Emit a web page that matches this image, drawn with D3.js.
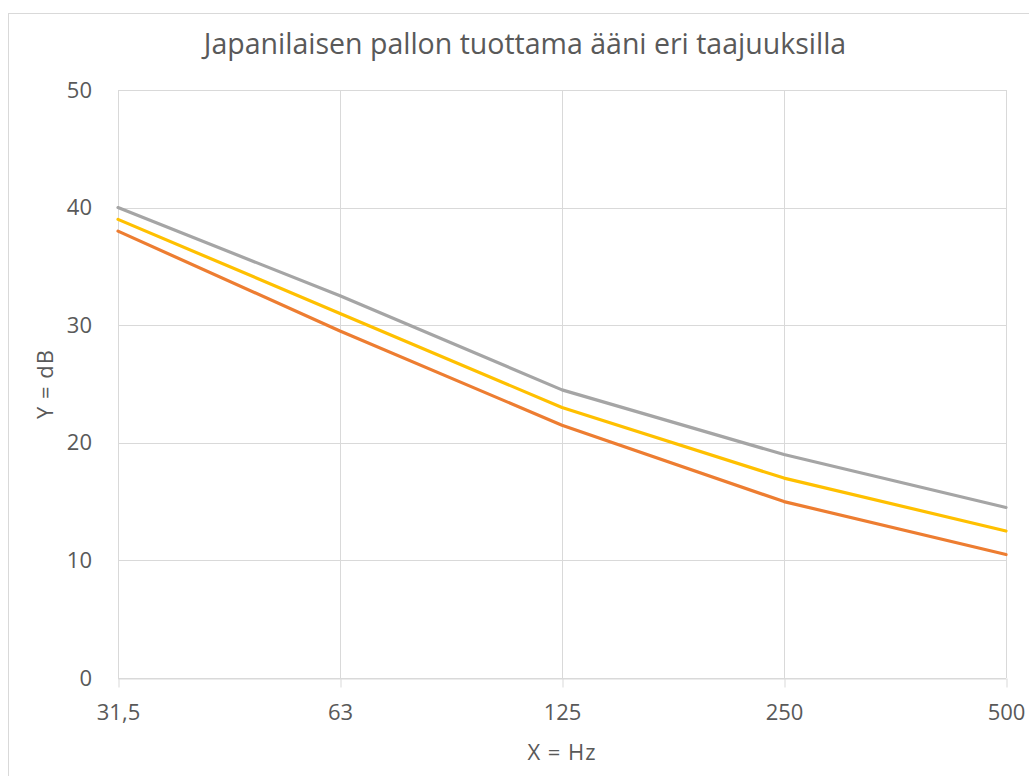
<!DOCTYPE html>
<html>
<head>
<meta charset="utf-8">
<script src="https://cdn.jsdelivr.net/npm/d3@7/dist/d3.min.js"></script>
<style>
  html, body { margin: 0; padding: 0; background: #fff; }
  svg { display: block; }
  svg text { font-family: "Open Sans", "Noto Sans", sans-serif; }
</style>
</head>
<body>
<svg id="chart" width="1029" height="776"></svg>
<script>
// Frequencies (Hz) and measured sound level (dB) for three series
const categories = ["31,5", "63", "125", "250", "500"];
const seriesGray   = [40, 32.5, 24.5, 19, 14.5];
const seriesYellow = [39, 31, 23, 17, 12.5];
const seriesOrange = [38, 29.5, 21.5, 15, 10.5];
const yTicks = [0, 10, 20, 30, 40, 50];

const series = [
  { name: "gray",   values: seriesGray,   color: "#A5A5A5" },
  { name: "yellow", values: seriesYellow, color: "#FFC000" },
  { name: "orange", values: seriesOrange, color: "#ED7D31" }
];

const FONT = '"Open Sans", "Noto Sans", sans-serif';
const TEXT = "#595959";

const svg = d3.select("#chart");
const W = 1029, H = 776;
const m = { left: 118, right: W - 1006, top: 90, bottom: H - 678 };

// chart frame
svg.append("rect")
  .attr("x", 8.5).attr("y", 13.5)
  .attr("width", W + 20).attr("height", H + 20)
  .attr("fill", "#fff").attr("stroke", "#d9d9d9").attr("stroke-width", 1);

const x = d3.scalePoint().domain(categories).range([m.left, W - m.right]);
const y = d3.scaleLinear().domain([0, 50]).range([H - m.bottom, m.top]);

// horizontal gridlines
svg.append("g")
  .selectAll("line").data(yTicks).join("line")
  .attr("x1", m.left).attr("x2", W - m.right)
  .attr("y1", d => Math.round(y(d)) + 0.5).attr("y2", d => Math.round(y(d)) + 0.5)
  .attr("stroke", "#d9d9d9").attr("stroke-width", 1);

// vertical gridlines at each category
svg.append("g")
  .selectAll("line").data(categories).join("line")
  .attr("x1", d => Math.round(x(d)) + 0.5).attr("x2", d => Math.round(x(d)) + 0.5)
  .attr("y1", m.top).attr("y2", H - m.bottom)
  .attr("stroke", "#d9d9d9").attr("stroke-width", 1);

// y axis labels
const yAxis = d3.axisLeft(y).tickValues(yTicks).tickSize(0).tickPadding(26);
const gy = svg.append("g").attr("transform", `translate(${m.left},0)`).call(yAxis)
  .attr("font-family", FONT).attr("font-size", 22);
gy.select(".domain").remove();
gy.selectAll("text").attr("fill", TEXT);

// x axis with tick marks below the baseline
const xAxis = d3.axisBottom(x).tickSize(9).tickPadding(17).tickSizeOuter(0);
const gx = svg.append("g").attr("transform", `translate(0,${Math.round(y(0)) + 0.5})`).call(xAxis)
  .attr("font-family", FONT).attr("font-size", 22);
gx.select(".domain").attr("stroke", "#d9d9d9");
gx.selectAll(".tick line").attr("stroke", "#d9d9d9").attr("transform", "translate(0.5,0)");
gx.selectAll("text").attr("fill", TEXT);

// series lines
const line = d3.line().x((d, i) => x(categories[i])).y(d => y(d));
svg.append("g")
  .selectAll("path").data(series).join("path")
  .attr("d", s => line(s.values))
  .attr("fill", "none")
  .attr("stroke", s => s.color)
  .attr("stroke-width", 3.2)
  .attr("stroke-linejoin", "round")
  .attr("stroke-linecap", "round");

// title
svg.append("text")
  .attr("x", 525).attr("y", 54)
  .attr("text-anchor", "middle")
  .attr("fill", TEXT)
  .attr("font-family", FONT)
  .attr("font-size", 28.5)
  .text("Japanilaisen pallon tuottama ääni eri taajuuksilla");

// axis titles
svg.append("text")
  .attr("x", (m.left + W - m.right) / 2).attr("y", 760)
  .attr("text-anchor", "middle")
  .attr("fill", TEXT)
  .attr("font-family", FONT)
  .attr("font-size", 22)
  .attr("letter-spacing", 1)
  .text("X = Hz");

svg.append("text")
  .attr("transform", `translate(53,${(m.top + H - m.bottom) / 2}) rotate(-90)`)
  .attr("text-anchor", "middle")
  .attr("fill", TEXT)
  .attr("font-family", FONT)
  .attr("font-size", 22)
  .attr("letter-spacing", 1)
  .text("Y = dB");
</script>
</body>
</html>
